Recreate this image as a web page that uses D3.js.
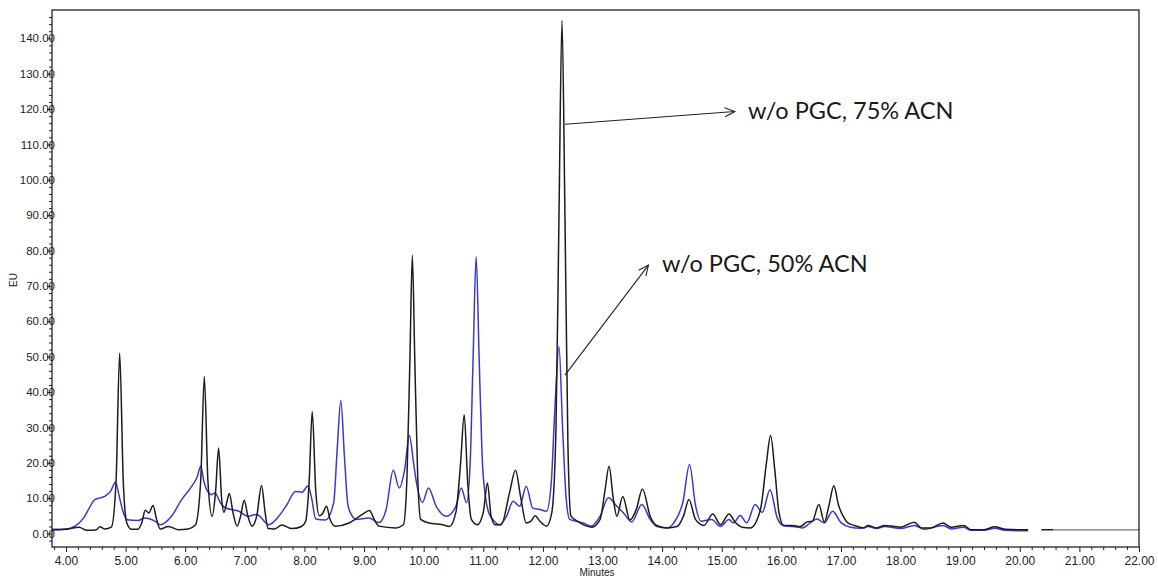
<!DOCTYPE html>
<html><head><meta charset="utf-8">
<script src="https://cdn.jsdelivr.net/npm/d3@7/dist/d3.min.js"></script>
<style>html,body{margin:0;padding:0;background:#fff;}svg{display:block;}</style>
</head><body>
<svg id="c" width="1158" height="578"></svg>
<script>
// ---- data (minutes, EU) ----
const blackTrace = [[3.73,1.0],[4.0,1.2],[4.22,1.8],[4.35,0.9],[4.5,1.0],[4.57,1.9],[4.65,1.3],[4.76,1.8],[4.84,15],[4.9,51],[4.96,15],[5.02,3.0],[5.1,1.2],[5.2,1.2],[5.27,3],[5.33,6.6],[5.39,5.8],[5.46,7.9],[5.52,4],[5.58,1.3],[5.72,2.0],[5.89,1.1],[6.05,1.3],[6.17,2.4],[6.26,15],[6.32,44.4],[6.38,15],[6.45,4.9],[6.51,12],[6.56,24.2],[6.61,10],[6.65,6.0],[6.7,9],[6.74,11.3],[6.8,6],[6.87,2.1],[6.93,5],[6.99,9.4],[7.05,5],[7.12,2.1],[7.2,5],[7.28,13.6],[7.34,6],[7.39,1.4],[7.5,1.3],[7.62,2.4],[7.79,1.4],[7.95,2],[8.02,3.5],[8.08,15],[8.13,34.5],[8.19,12],[8.25,5],[8.3,5.5],[8.37,7.7],[8.43,4],[8.52,2.1],[8.75,3.0],[8.97,5.4],[9.09,6.5],[9.17,4],[9.25,2.1],[9.53,1.6],[9.66,2.5],[9.72,16],[9.77,50],[9.81,78.7],[9.85,50],[9.9,16],[9.95,4.0],[10.09,3.0],[10.32,2.5],[10.43,2.0],[10.54,6],[10.62,20],[10.68,33.6],[10.74,14],[10.8,4],[10.9,2.5],[11.0,6],[11.07,14.3],[11.13,5],[11.2,2.5],[11.3,2.5],[11.44,11.5],[11.54,17.9],[11.63,10],[11.72,3],[11.8,3.5],[11.87,5],[11.95,3.5],[12.06,2.1],[12.15,6],[12.22,30],[12.27,90],[12.32,145],[12.37,90],[12.42,25],[12.47,5],[12.58,3.5],[12.7,2.3],[12.82,1.8],[12.96,4.0],[13.04,12],[13.11,19.0],[13.18,10],[13.24,4.9],[13.34,10.5],[13.46,3.8],[13.57,7.0],[13.67,12.6],[13.8,4.9],[13.91,2.3],[14.08,1.6],[14.25,2.0],[14.36,5],[14.45,9.6],[14.56,4.0],[14.7,2.3],[14.85,5.5],[14.98,2.5],[15.12,5.5],[15.23,3.1],[15.34,1.8],[15.48,1.6],[15.65,6.8],[15.75,20],[15.82,27.7],[15.89,18],[15.96,6],[16.04,2.3],[16.18,2.3],[16.32,2.0],[16.43,3.3],[16.52,3.5],[16.63,8.2],[16.72,3.3],[16.8,8],[16.88,13.5],[16.96,8],[17.05,4.5],[17.11,3.1],[17.22,2.3],[17.39,1.6],[17.45,2.3],[17.6,1.6],[17.73,2.3],[17.9,2.0],[18.0,1.8],[18.23,3.2],[18.35,1.6],[18.51,1.6],[18.71,3.0],[18.85,1.8],[19.06,2.3],[19.18,1.1],[19.4,1.1],[19.58,1.9],[19.75,1.2],[19.97,1.1],[20.14,1.1],null,[20.36,1.1],[20.56,1.1]];

const blueTrace = [[3.73,1.2],[4.0,1.3],[4.15,2.1],[4.3,4.5],[4.4,7.5],[4.48,9.6],[4.65,10.5],[4.75,12],[4.83,14.5],[4.9,10],[4.96,6],[5.02,3.9],[5.21,3.7],[5.32,4.4],[5.49,3.5],[5.58,2.5],[5.77,4.9],[5.94,9.6],[6.11,13.4],[6.2,16],[6.26,19],[6.31,15],[6.36,12.4],[6.44,11],[6.5,11.5],[6.59,8.7],[6.67,7.3],[6.9,6.3],[7.06,4.9],[7.2,5.4],[7.4,2.5],[7.57,4.9],[7.7,8],[7.85,11.9],[7.96,11.7],[8.06,13.5],[8.12,10],[8.19,4.1],[8.35,3.8],[8.49,8.7],[8.55,24],[8.61,37.6],[8.67,22],[8.73,8],[8.8,5],[8.86,4.0],[9.08,4.4],[9.25,3.1],[9.37,6.8],[9.49,17.9],[9.59,12.9],[9.68,18],[9.76,27.7],[9.83,20],[9.88,14.3],[9.98,8.8],[10.08,12.9],[10.21,7.7],[10.38,4.9],[10.54,7.7],[10.63,12.9],[10.72,8.7],[10.78,20],[10.83,50],[10.88,78.3],[10.93,50],[10.98,22],[11.04,10],[11.1,5.5],[11.16,4.0],[11.27,2.5],[11.39,4.9],[11.5,9.1],[11.61,7.7],[11.72,13.4],[11.83,7.2],[11.95,6.8],[12.06,6.3],[12.14,14.3],[12.2,35],[12.27,52.9],[12.33,30],[12.39,10],[12.45,4.0],[12.68,3.0],[12.81,2.1],[12.96,4.9],[13.1,10.1],[13.24,7.7],[13.35,5.9],[13.49,3.3],[13.66,8.2],[13.8,4.0],[13.91,2],[14.08,1.6],[14.2,3.1],[14.35,9],[14.46,19.5],[14.56,8],[14.65,3.5],[14.83,4.0],[14.98,2.0],[15.12,4.0],[15.2,3.0],[15.31,5.1],[15.42,3.0],[15.56,8.2],[15.68,6.0],[15.81,12.4],[15.93,4.5],[16.04,2.2],[16.2,2.0],[16.35,1.6],[16.49,3.1],[16.6,4.1],[16.72,3.0],[16.86,6.3],[17.0,3.1],[17.16,1.8],[17.33,1.5],[17.45,2.0],[17.6,1.4],[17.73,2.0],[18.0,1.4],[18.23,2.3],[18.4,1.2],[18.71,2.3],[18.85,1.3],[19.06,1.8],[19.18,0.9],[19.4,0.9],[19.58,1.5],[19.75,0.9],[20.0,0.8],[20.14,0.8]];

const baselineTrace = [[20.56,1.05],[22.0,1.05]];

const xTickValues = [4,5,6,7,8,9,10,11,12,13,14,15,16,17,18,19,20,21,22];
const yTickValues = [0,10,20,30,40,50,60,70,80,90,100,110,120,130,140];
const xLabel = "Minutes";
const yLabel = "EU";

// annotations: arrow from (t0,v0) to (t1,v1), text at (tx,vy)
const annotationTexts = ["w/o PGC, 75% ACN", "w/o PGC, 50% ACN"];
const annotationArrows = [[[12.37,115.7],[15.22,119.3]], [[12.37,44.8],[13.77,75.9]]];
const annotationAnchors = [[15.44,117.2],[14.0,73.8]];

// ---- layout ----
const svg = d3.select("#c");
const L = 52, R = 1139, T = 10, B = 547;
const x = d3.scaleLinear().domain([3.765, 22]).range([L, R]);
const y = d3.scaleLinear().domain([-3.8, 148]).range([B, T]);

const axisFont = "Liberation Sans, Arial, sans-serif";

// x axis
const xMinor = d3.range(3.8, 22.001, 0.2).filter(v => Math.abs(v - Math.round(v)) > 0.01);
const gx = svg.append("g").attr("transform", `translate(0,${B})`);
gx.call(d3.axisBottom(x).tickValues(xMinor).tickSize(3).tickFormat(""));
gx.call(g => g.select(".domain").remove());
const gx2 = svg.append("g").attr("transform", `translate(0,${B})`);
gx2.call(d3.axisBottom(x).tickValues(xTickValues).tickSize(5).tickPadding(4).tickFormat(d3.format(".2f")));
gx2.select(".domain").remove();
[gx, gx2].forEach(g => g.selectAll("line").attr("stroke", "#222"));
gx2.selectAll("text").attr("font-family", axisFont).attr("font-size", 12).attr("fill", "#222");

// y axis
const yMinor = d3.range(-2, 148, 2).filter(v => v % 10 !== 0);
const gy = svg.append("g").attr("transform", `translate(${L},0)`);
gy.call(d3.axisLeft(y).tickValues(yMinor).tickSize(3).tickFormat(""));
gy.select(".domain").remove();
const gy2 = svg.append("g").attr("transform", `translate(${L},0)`);
gy2.call(d3.axisLeft(y).tickValues(yTickValues).tickSize(5).tickPadding(-8).tickFormat(d3.format(".2f")));
gy2.select(".domain").remove();
[gy, gy2].forEach(g => g.selectAll("line").attr("stroke", "#222"));
gy2.selectAll("text").attr("font-family", axisFont).attr("font-size", 11.5).attr("fill", "#222");

// axis titles
svg.append("text").attr("x", 597).attr("y", 576).attr("text-anchor", "middle")
  .attr("font-family", axisFont).attr("font-size", 10).attr("fill", "#222").text(xLabel);
svg.append("text").attr("transform", `translate(17,280) rotate(-90)`).attr("text-anchor", "middle")
  .attr("font-family", axisFont).attr("font-size", 10).attr("fill", "#222").text(yLabel);

// traces
const line = d3.line().defined(d => d !== null).x(d => x(d[0])).y(d => y(d[1])).curve(d3.curveMonotoneX);
svg.append("clipPath").attr("id", "pc").append("rect")
  .attr("x", L).attr("y", T).attr("width", R - L).attr("height", B - T);
const plot = svg.append("g").attr("clip-path", "url(#pc)");
plot.append("path").datum(baselineTrace).attr("d", line).attr("fill", "none").attr("stroke", "#777").attr("stroke-width", 1.3);
plot.append("path").datum(blueTrace).attr("d", line).attr("fill", "none").attr("stroke", "#3a3ac4").attr("stroke-width", 1.5).attr("stroke-linejoin", "round");
plot.append("path").datum(blackTrace).attr("d", line).attr("fill", "none").attr("stroke", "#1c1c1c").attr("stroke-width", 1.5).attr("stroke-linejoin", "round");

// frame (drawn over the tick labels, as in the reference)
svg.append("rect").attr("x", L).attr("y", T).attr("width", R - L).attr("height", B - T)
  .attr("fill", "none").attr("stroke", "#111").attr("stroke-width", 1.2);

// annotations
annotationArrows.forEach(([a, b]) => {
  const x0 = x(a[0]), y0 = y(a[1]), x1 = x(b[0]), y1 = y(b[1]);
  svg.append("line").attr("x1", x0).attr("y1", y0).attr("x2", x1).attr("y2", y1)
    .attr("stroke", "#222").attr("stroke-width", 1.1);
  const ang = Math.atan2(y1 - y0, x1 - x0), h = 11, sp = 0.42;
  const p1 = [x1 - h * Math.cos(ang - sp), y1 - h * Math.sin(ang - sp)];
  const p2 = [x1 - h * Math.cos(ang + sp), y1 - h * Math.sin(ang + sp)];
  svg.append("path").attr("d", `M${p1[0]},${p1[1]}L${x1},${y1}L${p2[0]},${p2[1]}`)
    .attr("fill", "none").attr("stroke", "#222").attr("stroke-width", 1.1);
});
annotationTexts.forEach((t, i) => {
  svg.append("text").attr("x", x(annotationAnchors[i][0])).attr("y", y(annotationAnchors[i][1]))
    .attr("font-family", "Lato, 'Open Sans', sans-serif").attr("font-size", 23.5).attr("fill", "#1a1a1a").text(t);
});
</script>
</body></html>
